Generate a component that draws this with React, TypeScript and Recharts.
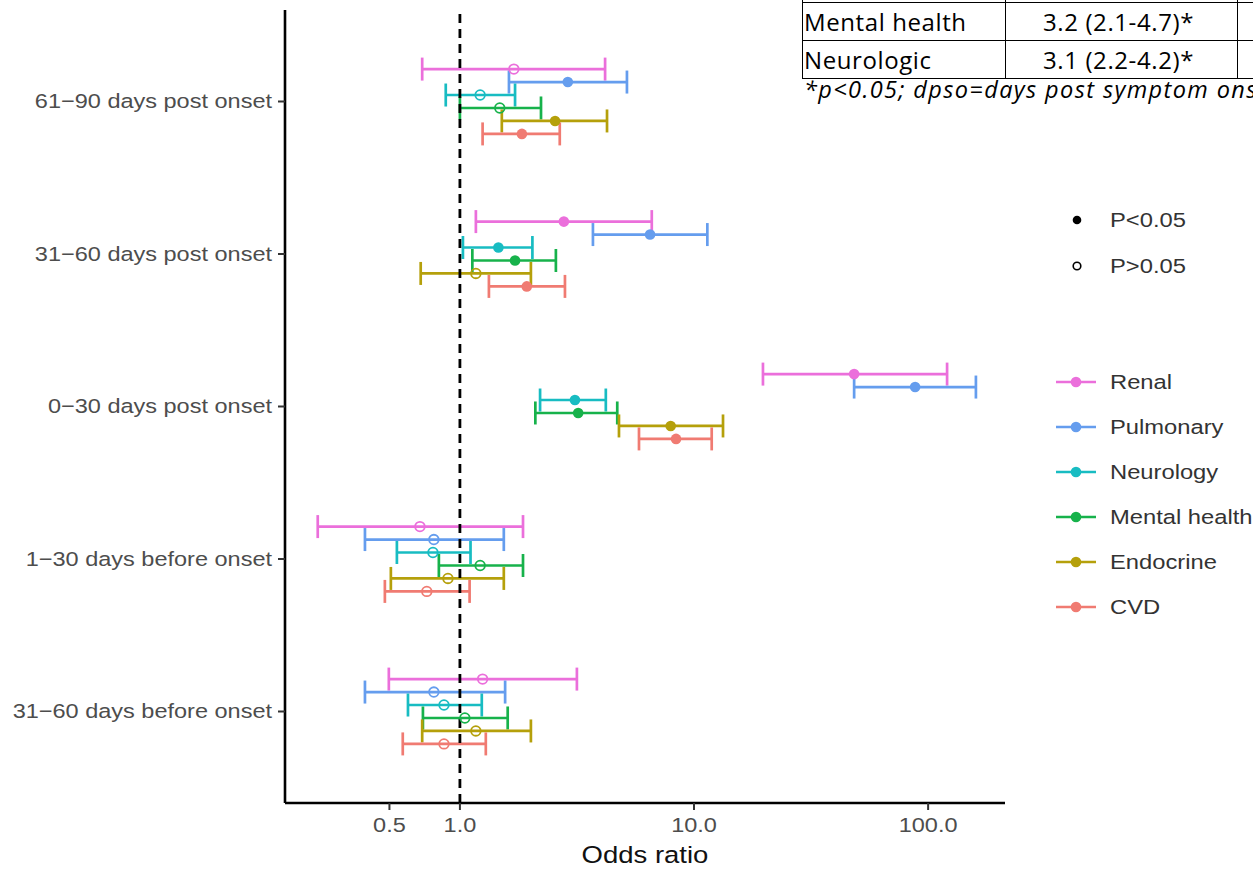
import React from 'react';
import { ScatterChart, Scatter, XAxis, YAxis, ErrorBar, ReferenceLine, Label } from 'recharts';

// ---------- data ----------
const categories = [
  '61−90 days post onset',
  '31−60 days post onset',
  '0−30 days post onset',
  '1−30 days before onset',
  '31−60 days before onset',
];
const seriesNames = ['Renal', 'Pulmonary', 'Neurology', 'Mental health', 'Endocrine', 'CVD'];
const seriesColors = ['#EB6FDB', '#659DEE', '#18BCC2', '#17B24B', '#B5A00B', '#F07B72'];

const renalOR = [1.70, 2.78, 48.3, 0.675, 1.25];
const renalLo = [0.69, 1.17, 19.7, 0.247, 0.497];
const renalHi = [4.17, 6.6, 120.5, 1.86, 3.16];
const renalSig = [false, true, true, false, false];

const pulmonaryOR = [2.89, 6.49, 88, 0.774, 0.774];
const pulmonaryLo = [1.62, 3.7, 48.3, 0.393, 0.393];
const pulmonaryHi = [5.17, 11.4, 160, 1.54, 1.56];
const pulmonarySig = [true, true, true, false, false];

const neurologyOR = [1.22, 1.46, 3.1, 0.767, 0.855];
const neurologyLo = [0.87, 1.03, 2.2, 0.538, 0.6];
const neurologyHi = [1.72, 2.04, 4.2, 1.11, 1.24];
const neurologySig = [false, true, true, false, false];

const mentalOR = [1.48, 1.72, 3.2, 1.22, 1.05];
const mentalLo = [1.0, 1.13, 2.1, 0.813, 0.695];
const mentalHi = [2.22, 2.57, 4.7, 1.86, 1.6];
const mentalSig = [false, true, true, false, false];

const endocrineOR = [2.55, 1.17, 7.95, 0.889, 1.17];
const endocrineLo = [1.51, 0.68, 4.78, 0.507, 0.69];
const endocrineHi = [4.25, 2.01, 13.3, 1.54, 2.01];
const endocrineSig = [true, false, true, false, false];

const cvdOR = [1.84, 1.93, 8.38, 0.722, 0.855];
const cvdLo = [1.25, 1.33, 5.82, 0.478, 0.57];
const cvdHi = [2.67, 2.81, 11.9, 1.1, 1.29];
const cvdSig = [true, true, true, false, false];

const xTicks = [0.5, 1, 10, 100];

const tableRows = [
  ['Mental health', '3.2 (2.1-4.7)*'],
  ['Neurologic', '3.1 (2.2-4.2)*'],
];
const footnote = '*p<0.05; dpso=days post symptom onset';

// ---------- build ----------
const seriesValues = [
  [renalOR, renalLo, renalHi, renalSig],
  [pulmonaryOR, pulmonaryLo, pulmonaryHi, pulmonarySig],
  [neurologyOR, neurologyLo, neurologyHi, neurologySig],
  [mentalOR, mentalLo, mentalHi, mentalSig],
  [endocrineOR, endocrineLo, endocrineHi, endocrineSig],
  [cvdOR, cvdLo, cvdHi, cvdSig],
] as const;

const DODGE = 0.51;
const nSeries = seriesNames.length;
const seriesData = seriesValues.map(([or, lo, hi, sig], s) =>
  categories.map((_, c) => ({
    x: (or as number[])[c],
    y: c + (s - (nSeries - 1) / 2) * (DODGE / nSeries),
    err: [(or as number[])[c] - (lo as number[])[c], (hi as number[])[c] - (or as number[])[c]],
    sig: (sig as boolean[])[c],
  }))
);

const W = 1253;
const H = 869;
const FONT = '"Liberation Sans", Arial, sans-serif';
const SX = 1.17;
const FS = 20.1;

const YTick = (props: any) => {
  const { x, y, payload } = props;
  return (
    <g transform={`translate(${x},${y})`}>
      <text transform={`scale(${SX},1)`} textAnchor="end" dominantBaseline="central" fontSize={FS} fill="#4d4d4d" fontFamily={FONT}>
        {categories[payload.value]}
      </text>
    </g>
  );
};

const XTick = (props: any) => {
  const { x, y, payload } = props;
  return (
    <g transform={`translate(${x},${y})`}>
      <text transform={`scale(${SX},1)`} textAnchor="middle" dy="0.72em" fontSize={FS} fill="#4d4d4d" fontFamily={FONT}>
        {Number(payload.value).toFixed(1)}
      </text>
    </g>
  );
};

const AxisTitle = (props: any) => {
  const vb = props.viewBox || {};
  const cx = vb.x + vb.width / 2;
  const by = vb.y + vb.height - 6;
  return (
    <g transform={`translate(${cx},${by})`}>
      <text transform={`scale(${SX},1)`} textAnchor="middle" fontSize={23.5} fill="#111" fontFamily={FONT}>
        Odds ratio
      </text>
    </g>
  );
};

const makeShape = (color: string) => (props: any) => {
  const { cx, cy, payload } = props;
  if (cx == null || cy == null) return <g />;
  return payload.sig ? (
    <circle cx={cx} cy={cy} r={5.3} fill={color} stroke="none" />
  ) : (
    <circle cx={cx} cy={cy} r={4.8} fill="none" stroke={color} strokeWidth={1.8} />
  );
};

const LegendText = ({ x, y, children }: { x: number; y: number; children: React.ReactNode }) => (
  <g transform={`translate(${x},${y})`}>
    <text transform={`scale(${SX},1)`} dominantBaseline="central" fontSize={20.3} fill="#333" fontFamily={FONT}>
      {children}
    </text>
  </g>
);

const Legend = () => (
  <svg width={W} height={H} style={{ position: 'absolute', left: 0, top: 0, pointerEvents: 'none' }}>
    <circle cx={1077} cy={220} r={4.3} fill="#000" />
    <LegendText x={1110} y={220}>P&lt;0.05</LegendText>
    <circle cx={1077} cy={266} r={3.8} fill="none" stroke="#000" strokeWidth={1.6} />
    <LegendText x={1110} y={266}>P&gt;0.05</LegendText>
    {seriesNames.map((name, i) => {
      const y = 382 + i * 45;
      return (
        <g key={name}>
          <line x1={1056} x2={1096} y1={y} y2={y} stroke={seriesColors[i]} strokeWidth={2.5} />
          <circle cx={1076} cy={y} r={5.3} fill={seriesColors[i]} />
          <LegendText x={1110} y={y}>{name}</LegendText>
        </g>
      );
    })}
  </svg>
);

const cellBase: React.CSSProperties = {
  borderRight: '1px solid #000',
  borderBottom: '1px solid #000',
  display: 'flex',
  alignItems: 'center',
  boxSizing: 'border-box',
  whiteSpace: 'nowrap',
  overflow: 'hidden',
};

const Table = () => (
  <>
    <div
      style={{
        position: 'absolute',
        left: 802,
        top: -36,
        display: 'grid',
        gridTemplateColumns: '203px 232px 120px',
        gridTemplateRows: '38px 38px 38px',
        borderLeft: '1px solid #000',
        borderTop: '1px solid #000',
        fontFamily: '"Open Sans", sans-serif',
        fontSize: 24,
        color: '#000',
        letterSpacing: 0.6,
      }}
    >
      <div style={cellBase} />
      <div style={cellBase} />
      <div style={cellBase} />
      {tableRows.map((r) => (
        <React.Fragment key={r[0]}>
          <div style={{ ...cellBase, paddingLeft: 1 }}>{r[0]}</div>
          <div style={{ ...cellBase, justifyContent: 'center', paddingRight: 6 }}>{r[1]}</div>
          <div style={cellBase} />
        </React.Fragment>
      ))}
    </div>
    <div
      style={{
        position: 'absolute',
        left: 804,
        top: 73,
        fontFamily: '"Open Sans", sans-serif',
        fontStyle: 'italic',
        fontSize: 23.5,
        letterSpacing: 1.4,
        whiteSpace: 'nowrap',
        color: '#000',
      }}
    >
      {footnote}
    </div>
  </>
);

export default function App() {
  return (
    <div style={{ position: 'absolute', left: 0, top: 0, width: W, height: H, overflow: 'hidden', background: '#fff' }}>
      <ScatterChart width={W} height={H} margin={{ top: 10, right: 248, bottom: 0, left: 0 }}>
        <XAxis
          type="number"
          dataKey="x"
          scale="log"
          domain={[0.179, 213]}
          allowDataOverflow
          ticks={xTicks}
          interval={0}
          height={66}
          tick={<XTick />}
          tickSize={7}
          tickMargin={8}
          axisLine={{ stroke: '#000', strokeWidth: 2.6 }}
          tickLine={{ stroke: '#333', strokeWidth: 2 }}
        >
          <Label content={<AxisTitle />} position="insideBottom" />
        </XAxis>
        <YAxis
          type="number"
          dataKey="y"
          domain={[-0.6, 4.6]}
          reversed
          ticks={[0, 1, 2, 3, 4]}
          interval={0}
          width={285}
          tick={<YTick />}
          tickSize={7}
          tickMargin={6}
          axisLine={{ stroke: '#000', strokeWidth: 2.6 }}
          tickLine={{ stroke: '#333', strokeWidth: 2 }}
        />
        {seriesData.map((data, s) => (
          <Scatter
            key={seriesNames[s]}
            name={seriesNames[s]}
            data={data}
            fill={seriesColors[s]}
            shape={makeShape(seriesColors[s])}
            isAnimationActive={false}
          >
            <ErrorBar dataKey="err" direction="x" width={11.5} strokeWidth={2.7} stroke={seriesColors[s]} />
          </Scatter>
        ))}
        <ReferenceLine x={1} stroke="#000" strokeWidth={2.8} strokeDasharray="9 6" />
      </ScatterChart>
      <Legend />
      <Table />
    </div>
  );
}
